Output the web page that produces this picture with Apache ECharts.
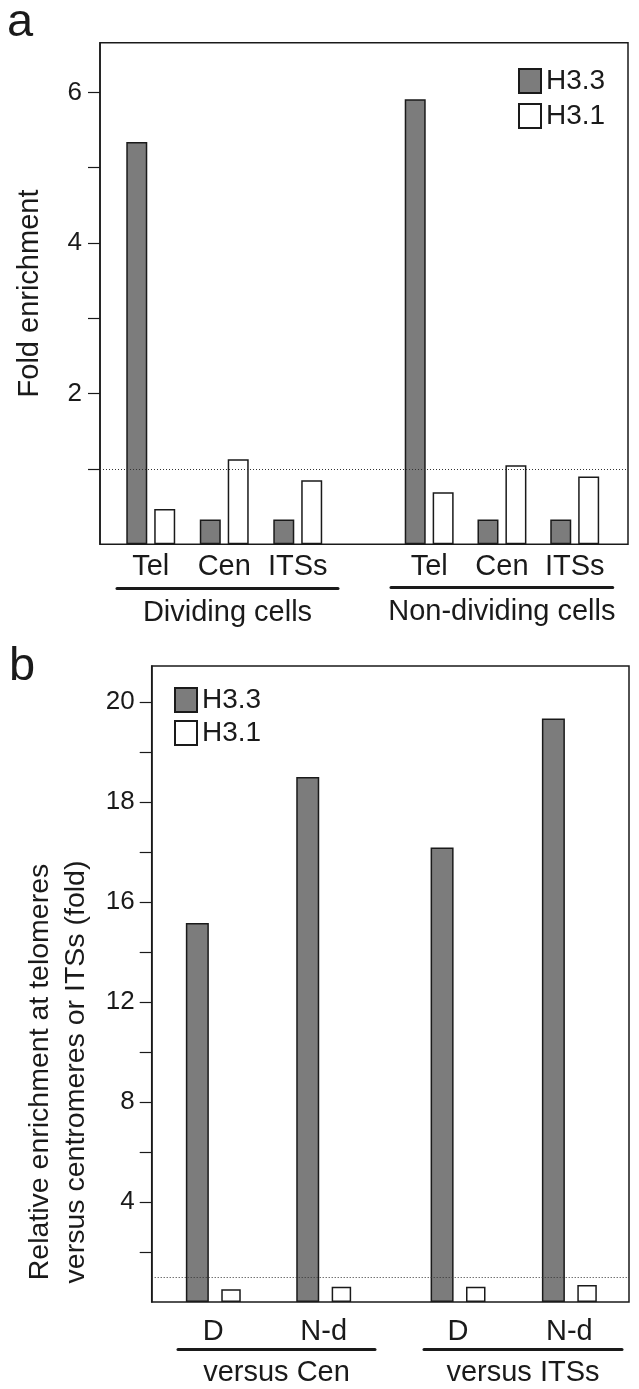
<!DOCTYPE html>
<html><head><meta charset="utf-8">
<script src="https://cdn.jsdelivr.net/npm/echarts@6/dist/echarts.min.js"></script>
<style>html,body{margin:0;padding:0;background:#fff}#c{width:639px;height:1389px}</style>
</head><body><div id="c"></div>
<script>
// ---------- data ----------
const seriesNames = ['H3.3', 'H3.1'];
// panel a
const regionsA = ['Tel', 'Cen', 'ITSs'];
const cellGroupsA = ['Dividing cells', 'Non-dividing cells'];
const h33Dividing = [5.34, 0.33, 0.33];
const h31Dividing = [0.47, 1.13, 0.85];
const h33NonDividing = [5.91, 0.33, 0.33];
const h31NonDividing = [0.69, 1.05, 0.90];
const tickValuesA = [1, 2, 3, 4, 5, 6];
const labelValuesA = [2, 4, 6];
const yMaxA = 6.66;
const baselineA = 1;
// panel b
const cellTypesB = ['D', 'N-d'];
const comparisonsB = ['versus Cen', 'versus ITSs'];
const h33VsCen = [15.16, 18.5];
const h31VsCen = [0.51, 0.61];
const h33VsITSs = [17.09, 19.67];
const h31VsITSs = [0.61, 0.68];
const tickValuesB = [2, 4, 6, 8, 10, 12, 14, 16, 17, 18, 19, 20];
const labelValuesB = [4, 8, 12, 16, 18, 20];
const yMaxB = 20.72;
const baselineB = 1;
const scaleBreakB = 16; // above this value the axis scale is stretched x2

// ---------- helpers ----------
const fwdB = v => v <= scaleBreakB ? v : scaleBreakB + 2 * (v - scaleBreakB);
const invB = t => t <= scaleBreakB ? t : scaleBreakB + (t - scaleBreakB) / 2;

const FONT = "'Liberation Sans', Arial, Helvetica, sans-serif";
const INK = '#1a1a1a';
const GREY = '#7c7c7c';
const txt = (size, extra) => Object.assign({ fontSize: size, fontFamily: FONT, color: INK }, extra || {});

function bar(name, data, gi, width, gap) {
  return {
    type: 'bar', name, data, xAxisIndex: gi, yAxisIndex: gi,
    barWidth: width, barGap: gap, z: 3, silent: true,
    itemStyle: { color: name === 'H3.3' ? GREY : '#ffffff', borderColor: INK, borderWidth: 1.5 }
  };
}
function baseline(gi, value) {
  return {
    type: 'line', data: [], xAxisIndex: gi, yAxisIndex: gi, z: 1, silent: true,
    markLine: { silent: true, symbol: 'none', label: { show: false },
      lineStyle: { color: '#333', width: 1, type: [1, 2] }, data: [{ yAxis: value }] }
  };
}
const hiddenY = (gi, max) => ({ gridIndex: gi, type: 'value', min: 0, max, show: false });
const hiddenValX = gi => ({ gridIndex: gi, type: 'value', min: 0, max: 1, show: false });
const catX = (gi, data, margin) => ({
  gridIndex: gi, type: 'category', data,
  axisLine: { show: false }, axisTick: { show: false }, splitLine: { show: false },
  axisLabel: Object.assign({ margin, interval: 0 }, txt(29))
});
const underlineX = (gi, name, gap) => ({
  gridIndex: gi, type: 'category', data: [''],
  axisLine: { show: true, lineStyle: { color: INK, width: 3 } },
  axisTick: { show: false }, axisLabel: { show: false }, splitLine: { show: false },
  name, nameLocation: 'middle', nameGap: gap, nameTextStyle: txt(29, { lineHeight: 29 })
});

const frameStyle = { show: true, borderColor: INK, borderWidth: 1.5, backgroundColor: 'transparent' };

const option = {
  animation: false,
  backgroundColor: '#ffffff',
  title: [
    { text: 'a', left: 7, top: 0, padding: 0, textStyle: txt(47, { fontWeight: 'normal' }) },
    { text: 'b', left: 9, top: 644, padding: 0, textStyle: txt(47, { fontWeight: 'normal' }) }
  ],
  legend: [
    { data: seriesNames, orient: 'vertical', left: 518, top: 67, padding: 0, icon: 'rect',
      itemWidth: 22, itemHeight: 24, itemGap: 7, selectedMode: false, textStyle: txt(28) },
    { data: seriesNames, orient: 'vertical', left: 174, top: 686, padding: 0, icon: 'rect',
      itemWidth: 22, itemHeight: 24, itemGap: 5, selectedMode: false, textStyle: txt(28) }
  ],
  grid: [
    // panel a
    Object.assign({ left: 100, top: 42.7, width: 528, height: 501.6 }, frameStyle), // 0 frame
    { left: 114, top: 42.7, width: 220.5, height: 501.6 },   // 1 dividing bars
    { left: 392.8, top: 42.7, width: 218.3, height: 501.6 }, // 2 non-dividing bars
    { left: 117, top: 560, width: 221, height: 28 },         // 3 dividing underline
    { left: 391, top: 560, width: 221.7, height: 27.5 },     // 4 non-dividing underline
    // panel b
    Object.assign({ left: 151.7, top: 666, width: 477.3, height: 636 }, frameStyle), // 5 frame
    { left: 158.1, top: 666, width: 220.8, height: 636 },    // 6 vs Cen bars
    { left: 402.4, top: 666, width: 222.6, height: 636 },    // 7 vs ITSs bars
    { left: 178, top: 1320, width: 197, height: 29 },        // 8 Cen underline
    { left: 424, top: 1320, width: 198, height: 29 }         // 9 ITSs underline
  ],
  xAxis: [
    hiddenValX(0),
    catX(1, regionsA, 8),
    catX(2, regionsA, 8),
    underlineX(3, cellGroupsA[0], 10),
    underlineX(4, cellGroupsA[1], 10),
    hiddenValX(5),
    catX(6, cellTypesB, 15),
    catX(7, cellTypesB, 15),
    underlineX(8, comparisonsB[0], 9),
    underlineX(9, comparisonsB[1], 9)
  ],
  yAxis: [
    { gridIndex: 0, type: 'value', min: 0, max: yMaxA,
      axisLine: { show: true, lineStyle: { color: INK, width: 1.5 } },
      axisTick: { show: true, length: 12, customValues: tickValuesA, lineStyle: { color: INK, width: 1.2 } },
      axisLabel: Object.assign({ customValues: labelValuesA, margin: 18 }, txt(26)),
      splitLine: { show: false },
      name: 'Fold enrichment', nameLocation: 'middle', nameGap: 53,
      nameTextStyle: txt(29, { lineHeight: 34 }) },
    hiddenY(1, yMaxA), hiddenY(2, yMaxA), hiddenY(3, 1), hiddenY(4, 1),
    { gridIndex: 5, type: 'value', min: 0, max: fwdB(yMaxB),
      axisLine: { show: true, lineStyle: { color: INK, width: 1.5 } },
      axisTick: { show: true, length: 12, customValues: tickValuesB.map(fwdB), lineStyle: { color: INK, width: 1.2 } },
      axisLabel: Object.assign({ customValues: labelValuesB.map(fwdB), margin: 17,
        formatter: v => String(Math.round(invB(v))) }, txt(26)),
      splitLine: { show: false },
      name: 'Relative enrichment at telomeres\nversus centromeres or ITSs (fold)',
      nameLocation: 'middle', nameGap: 45,
      nameTextStyle: txt(28.5, { lineHeight: 36.7, padding: [0, 176, 0, 0] }) },
    hiddenY(6, fwdB(yMaxB)), hiddenY(7, fwdB(yMaxB)), hiddenY(8, 1), hiddenY(9, 1)
  ],
  series: [
    baseline(0, baselineA),
    bar('H3.3', h33Dividing, 1, 21, '33%'),
    bar('H3.1', h31Dividing, 1, 21, '33%'),
    bar('H3.3', h33NonDividing, 2, 21, '33%'),
    bar('H3.1', h31NonDividing, 2, 21, '33%'),
    baseline(5, fwdB(baselineB)),
    bar('H3.3', h33VsCen.map(fwdB), 6, 23, '54%'),
    bar('H3.1', h31VsCen.map(fwdB), 6, 19.5, '54%'),
    bar('H3.3', h33VsITSs.map(fwdB), 7, 23, '54%'),
    bar('H3.1', h31VsITSs.map(fwdB), 7, 19.5, '54%')
  ]
};
const chart = echarts.init(document.getElementById('c'), null, { renderer: 'canvas' });
chart.setOption(option);
</script>
</body></html>
